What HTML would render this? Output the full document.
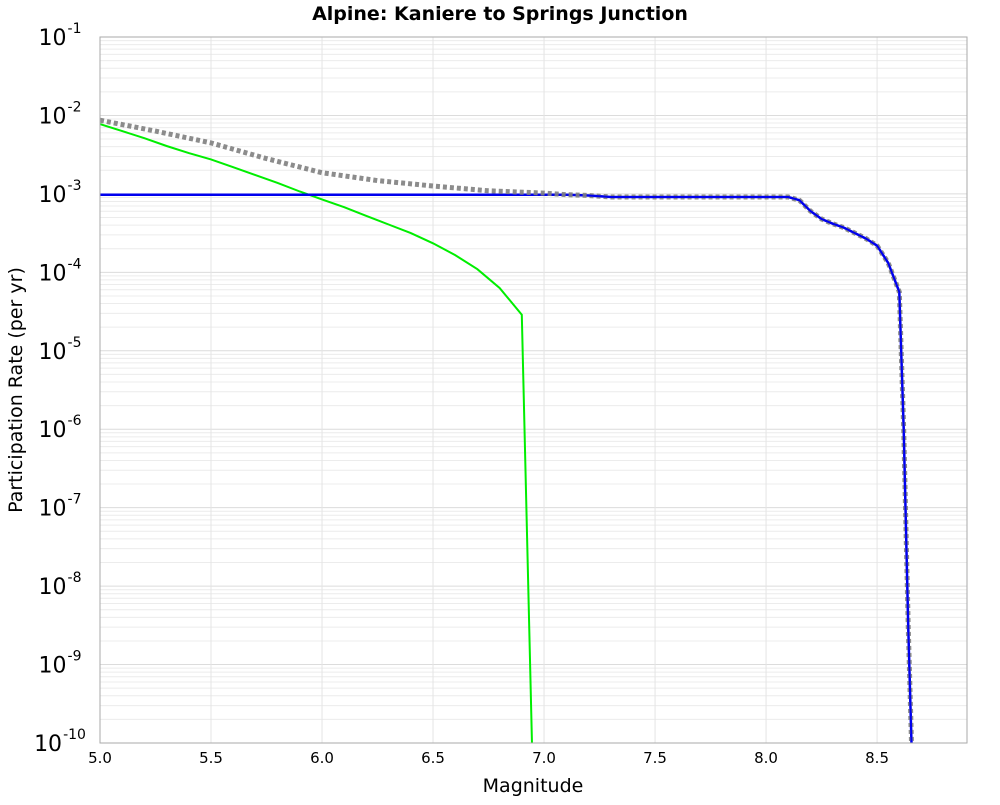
<!DOCTYPE html>
<html><head><meta charset="utf-8"><style>
body{margin:0;background:#fff;font-family:"Liberation Sans","DejaVu Sans",sans-serif}
</style></head><body>
<svg id="chart" width="1000" height="800" xmlns="http://www.w3.org/2000/svg" style="font-family:'DejaVu Sans','Liberation Sans',sans-serif">
<text x="500" y="20" text-anchor="middle" font-size="19" font-weight="bold">Alpine: Kaniere to Springs Junction</text>
<g id="grid"></g>
<g id="series"></g>
<rect x="100" y="37" width="867" height="706" fill="none" stroke="#aaa" stroke-width="1"/>
<g id="axes"></g>
<text x="533" y="792" text-anchor="middle" font-size="19">Magnitude</text>
<text transform="translate(22,390) rotate(-90)" text-anchor="middle" font-size="19">Participation Rate (per yr)</text>
</svg>
<script>
const xTicks=[5.0,5.5,6.0,6.5,7.0,7.5,8.0,8.5];
const yDecades=[-1,-2,-3,-4,-5,-6,-7,-8,-9,-10];
const greenMag=[5.0,5.1,5.2,5.3,5.4,5.5,5.6,5.7,5.8,5.9,6.0,6.1,6.2,6.3,6.4,6.5,6.6,6.7,6.8,6.9,6.95];
const greenLog=[-2.11,-2.20,-2.29,-2.39,-2.48,-2.56,-2.66,-2.76,-2.86,-2.97,-3.07,-3.17,-3.28,-3.39,-3.50,-3.63,-3.78,-3.96,-4.20,-4.54,-10.5];
const blueMag=[5.0,7.1,7.2,7.3,8.1,8.15,8.2,8.25,8.3,8.35,8.4,8.45,8.5,8.55,8.6,8.62,8.64,8.66];
const blueLog=[-3.01,-3.01,-3.02,-3.04,-3.04,-3.08,-3.22,-3.32,-3.38,-3.43,-3.50,-3.57,-3.66,-3.88,-4.25,-6.0,-8.5,-10.5];
const totalMag=[5.0,5.25,5.5,5.75,6.0,6.25,6.5,6.75,7.0,7.1,7.2,7.3,8.1,8.15,8.2,8.25,8.3,8.35,8.4,8.45,8.5,8.55,8.6,8.62,8.64,8.66];
const totalLog=[-2.06,-2.20,-2.35,-2.55,-2.73,-2.83,-2.90,-2.96,-2.99,-3.01,-3.02,-3.04,-3.04,-3.08,-3.22,-3.32,-3.38,-3.43,-3.50,-3.57,-3.66,-3.88,-4.25,-6.0,-8.5,-10.5];
const X0=100,X1=967,Y0=37,Y1=743,xmin=5.0,xmax=8.905;
const sx=m=>X0+(m-xmin)/(xmax-xmin)*(X1-X0);
const sy=l=>Y0+(-1-l)/9*(Y1-Y0);
const NS="http://www.w3.org/2000/svg";
function mk(t,a,p){const e=document.createElementNS(NS,t);for(const k in a)e.setAttribute(k,a[k]);p.appendChild(e);return e;}
const grid=document.getElementById('grid'),axes=document.getElementById('axes'),ser=document.getElementById('series');
for(let d=-10;d<-1;d++){for(let k=2;k<=9;k++){const y=sy(d+Math.log10(k));
const l=mk('line',{x1:X0,x2:X1,y1:y,y2:y,stroke:'#ececec','stroke-width':1},grid);
}}
yDecades.forEach(d=>{const y=sy(d);
const l=mk('line',{x1:X0,x2:X1,y1:y,y2:y,stroke:'#dcdcdc','stroke-width':1},grid);

const t=mk('text',{x:60,y:y+8,'text-anchor':'middle','font-size':22},axes);

t.textContent='10';const s=mk('tspan',{dx:1,dy:-12,'font-size':14},t);s.textContent=String(d);});
xTicks.forEach(m=>{const x=sx(m);
const l=mk('line',{x1:x,x2:x,y1:Y0,y2:Y1,stroke:'#e4e4e4','stroke-width':1},grid);

const t=mk('text',{x:x,y:763,'text-anchor':'middle','font-size':15},axes);

t.textContent=m.toFixed(1);});
const clip=mk('clipPath',{id:'pc'},document.getElementById('chart'));
mk('rect',{x:X0,y:Y0,width:X1-X0,height:Y1-Y0},clip);
function line(ms,ls,attrs,name){const pts=ms.map((m,i)=>sx(m).toFixed(1)+','+sy(ls[i]).toFixed(1)).join(' ');
const p=mk('polyline',Object.assign({points:pts,fill:'none','clip-path':'url(#pc)'},attrs),ser);
}
line(greenMag,greenLog,{stroke:'#00ee00','stroke-width':2},'green-series-line');
line(blueMag,blueLog,{stroke:'#0000ee','stroke-width':2.5},'blue-series-line');
line(totalMag,totalLog,{stroke:'#808080','stroke-width':5,'stroke-dasharray':'4 3',opacity:0.9},'total-series-line');
line(blueMag.slice(2),blueLog.slice(2),{stroke:'#0000ee','stroke-width':2},'blue-series-overlay');
</script>
</body></html>
